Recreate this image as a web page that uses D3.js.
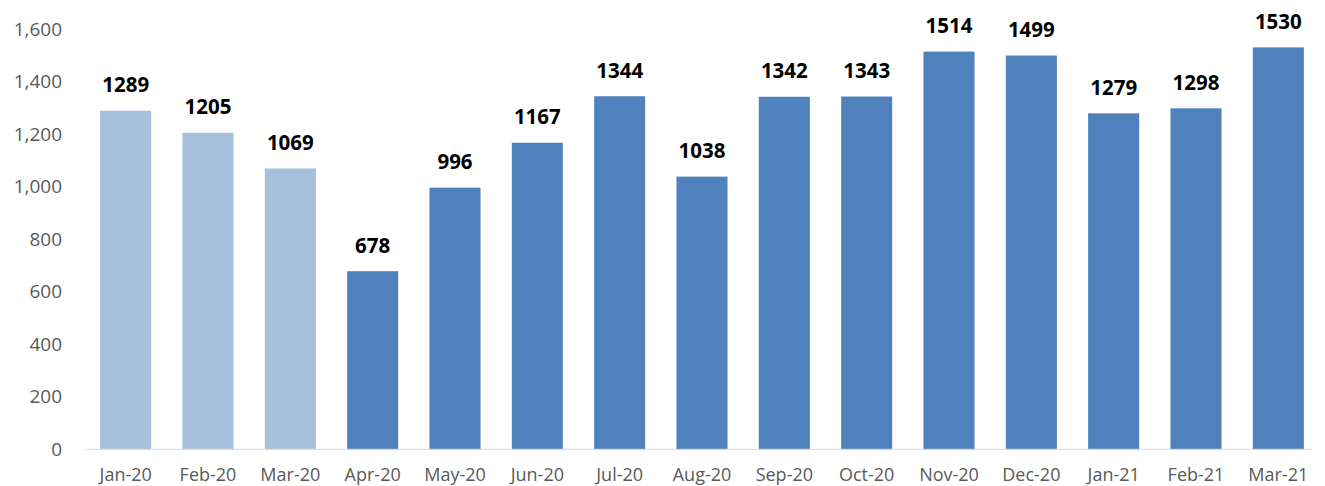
<!DOCTYPE html>
<html><head><meta charset="utf-8">
<script src="https://cdn.jsdelivr.net/npm/d3@7"></script>
<style>html,body{margin:0;padding:0;background:#fff;}</style>
</head><body>
<svg id="c" width="1325" height="486"></svg>
<script>
const categories = ["Jan-20","Feb-20","Mar-20","Apr-20","May-20","Jun-20","Jul-20","Aug-20","Sep-20","Oct-20","Nov-20","Dec-20","Jan-21","Feb-21","Mar-21"];
const values = [1289,1205,1069,678,996,1167,1344,1038,1342,1343,1514,1499,1279,1298,1530];
const highlight = [true,true,true,false,false,false,false,false,false,false,false,false,false,false,false];
const yTicks = [0,200,400,600,800,1000,1200,1400,1600];

const svg = d3.select("#c");
const x = d3.scaleBand().domain(categories).range([84.5, 1319.5]).paddingInner(0.38).paddingOuter(0.19);
const y = d3.scaleLinear().domain([0,1600]).range([449.3, 29]);
const font = "'Open Sans', 'Liberation Sans', sans-serif";

// bars
svg.append("g").selectAll("rect").data(values).join("rect")
  .attr("x",(d,i)=>x(categories[i]))
  .attr("width",x.bandwidth())
  .attr("y",d=>y(d))
  .attr("height",d=>y(0)-y(d))
  .attr("fill",(d,i)=>highlight[i]?"#A7C0DE":"#4F81BD");

// axis line
svg.append("line").attr("x1",84).attr("x2",1312).attr("y1",y(0)).attr("y2",y(0))
  .attr("stroke","#D9D9D9").attr("stroke-width",1);

// y axis
const ya = svg.append("g").attr("transform","translate(62,0)")
  .call(d3.axisLeft(y).tickValues(yTicks).tickSize(0).tickPadding(0).tickFormat(d3.format(",")));
ya.select(".domain").remove();
ya.selectAll("text").attr("fill","#595959").style("font-family",font).style("font-size","19px");

// x axis
const xa = svg.append("g").attr("transform",`translate(0,${y(0)})`)
  .call(d3.axisBottom(x).tickSize(0));
xa.select(".domain").remove();
xa.selectAll("text").attr("y",31.5).attr("dy",0).attr("fill","#595959").style("font-family",font).style("font-size","18px");

// value labels
svg.append("g").selectAll("text").data(values).join("text")
  .attr("x",(d,i)=>x(categories[i])+x.bandwidth()/2)
  .attr("y",d=>y(d)-18.3)
  .attr("text-anchor","middle")
  .style("font-family",font).style("font-size","20.5px").style("font-weight","bold")
  .attr("fill","#000")
  .text(d=>d);
</script>
</body></html>
